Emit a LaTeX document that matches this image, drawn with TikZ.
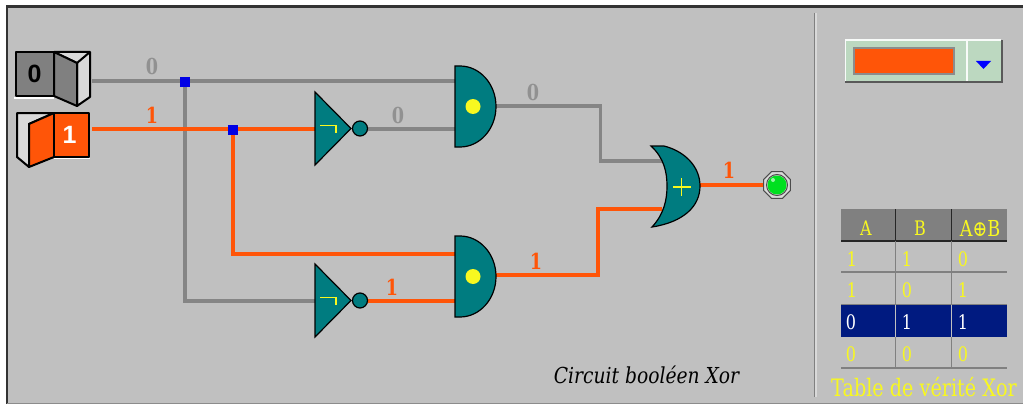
\documentclass[tikz,border=0pt]{standalone}
\usepackage{fontspec}
\usetikzlibrary{shapes.geometric}
\setmainfont{DejaVu Serif}
\newfontfamily\labelfont[FakeStretch=0.8]{DejaVu Serif}
\newfontfamily\capfont[FakeStretch=0.85]{DejaVu Serif}
\newfontfamily\keyfont{Liberation Sans}
\definecolor{panel}{HTML}{C0C0C0}
\definecolor{wireoff}{HTML}{858585}
\definecolor{wireon}{HTML}{FF5508}
\definecolor{gate}{HTML}{007C80}
\definecolor{ledgreen}{HTML}{00E020}
\definecolor{combo}{HTML}{BCD8C0}
\definecolor{rowblue}{HTML}{001A80}
\definecolor{tyellow}{HTML}{F8F820}
\definecolor{header}{HTML}{808080}
\tikzset{
  x=1pt,y=-1pt,
  wire off/.style={draw=wireoff,line width=3.2pt},
  wire on/.style={draw=wireon,line width=3.2pt},
  gate body/.style={draw=black,line width=1.2pt,fill=gate},
  symbol/.style={draw=tyellow,line width=1.7pt},
  junction/.style={fill=blue!90!black,draw=none,minimum size=10pt,inner sep=0pt,shape=rectangle},
  val/.style={font=\labelfont\bfseries\fontsize{22}{22}\selectfont,inner sep=0pt},
  val off/.style={val,text=wireoff!90!white},
  val on/.style={val,text=wireon},
  cell/.style={font=\labelfont\fontsize{20}{20}\selectfont,inner sep=0pt,text=tyellow},
  cell hi/.style={cell,text=white},
  flap/.style={draw=black,line width=2pt,line join=round},
}
\newcommand{\andgateat}[3]{%
  \begin{scope}[shift={(#1,#2)}]
    \filldraw[gate body] (0,-40.5) -- (5,-40.5)
      arc[start angle=90,end angle=-90,x radius=36pt,y radius=40.5pt] -- (0,40.5) -- cycle;
    \fill[tyellow] (18,0) circle[radius=7.5pt];
    \coordinate (#3) at (0,0);
  \end{scope}}
\newcommand{\notgateat}[3]{%
  \begin{scope}[shift={(#1,#2)}]
    \filldraw[gate body] (0,-36.5) -- (36,0) -- (0,36.5) -- cycle;
    \draw[symbol] (5,-3) -- (21,-3) -- (21,4);
    \filldraw[gate body] (45,0) circle[radius=7.5pt];
    \coordinate (#3) at (0,0);
  \end{scope}}
\begin{document}
\begin{tikzpicture}
\useasboundingbox (0,0) rectangle (1023,404);
\fill[white] (0,0) rectangle (1023,404);
\fill[panel] (7,6) rectangle (1023,403);
\draw[black!80,line width=2.4pt] (7,404) -- (7,6.5) -- (1023,6.5);
\draw[black!45,line width=1pt] (7,403.5) -- (1023,403.5);
% divider
\draw[line width=1pt,draw=black!50] (814.5,13) -- (814.5,397);
\draw[line width=1.4pt,draw=white!85!black] (815.8,13) -- (815.8,397);

% ports
\coordinate (swA) at (92,81);
\coordinate (swB) at (92,129);
\coordinate (inv1in) at (315,129);
\coordinate (inv2in) at (315,301);
\coordinate (inv1out) at (368,129);
\coordinate (inv2out) at (368,301);
\coordinate (and1a) at (456,81);
\coordinate (and1b) at (456,129);
\coordinate (and2a) at (456,254);
\coordinate (and2b) at (456,301);
\coordinate (and1o) at (496,106);
\coordinate (and2o) at (496,275);
\coordinate (or1a) at (662,161);
\coordinate (or1b) at (662,209);
\coordinate (oro) at (700,185);
\node[junction] (j1) at (185,82) {};
\node[junction] (j2) at (233,130) {};
\node[shape=regular polygon,regular polygon sides=8,minimum size=29pt,inner sep=0pt,
      fill=white!85!black,draw=black!70,line width=1pt] (led) at (777,185) {};

% wires
\draw[wire off] (swA) -- (and1a);
\draw[wire off] (j1.center) -- (185,301) -- (inv2in);
\draw[wire on] (swB) -- (inv1in);
\draw[wire on] (j2.center) -- (233,254) -- (and2a);
\draw[wire off] (inv1out) -- (and1b);
\draw[wire on] (inv2out) -- (and2b);
\draw[wire off,line join=miter] (and1o) -- (600.5,106) -- (600.5,161) -- (or1a);
\draw[wire on,line join=miter] (and2o) -- (598,275) -- (598,209) -- (or1b);
\draw[wire on] (oro) -- (led);
\node[junction] at (j1.center) {};
\node[junction] at (j2.center) {};

% gates
\andgateat{455}{106.5}{and1}
\andgateat{455}{276.5}{and2}
\notgateat{315}{128.5}{not1}
\notgateat{315}{300.5}{not2}
% or gate
\filldraw[gate body] (651,146) -- (664,146)
  .. controls (684,151) and (700,166) .. (700,186)
  .. controls (700,206) and (684,222) .. (652,227)
  .. controls (664,214) and (667,200) .. (667,186)
  .. controls (667,172) and (664,158) .. (651,146) -- cycle;
\draw[symbol] (673,187) -- (691,187) (681.5,178) -- (681.5,196);

% led
\draw[draw=black!70,line width=1pt] (led.center) circle[radius=10.5pt];
\fill[ledgreen] (led.center) circle[radius=9.5pt];
\fill[white!60!ledgreen] (773,180) circle[radius=2pt];

% switch A (off)
\draw[white,line width=1.5pt] (14,98) -- (54,98);
\filldraw[flap,fill=white!85!black] (54,52) -- (90,52) -- (90,97) -- (77,106) -- (77,63) -- cycle;
\draw[flap] (77,63) -- (90,52);
\filldraw[flap,fill=header] (54,52) -- (77,63) -- (77,106) -- (54,96) -- cycle;
\filldraw[flap,fill=header] (16,52) rectangle (54,96);
\node[font=\keyfont\bfseries\fontsize{25}{25}\selectfont,inner sep=0pt] (labA) at (34.5,73.5) {0};

% switch B (on)
\draw[white,line width=1.5pt] (54,158.5) -- (90,158.5);
\filldraw[flap,fill=white!85!black] (54,113) -- (17,113) -- (17,157) -- (29,167) -- (29,124) -- cycle;
\filldraw[flap,fill=wireon] (54,113) -- (29,124) -- (29,167) -- (54,157) -- cycle;
\filldraw[flap,fill=wireon] (54,113) rectangle (89,157);
\node[font=\keyfont\bfseries\fontsize{25}{25}\selectfont,text=white,inner sep=0pt] (labB) at (69.5,135) {1};

% wire values
\node[val off] (v1) at (152,66) {0};
\node[val on]  (v2) at (152,115) {1};
\node[val off] (v3) at (398,115) {0};
\node[val on]  (v4) at (392,287) {1};
\node[val off] (v5) at (533,92) {0};
\node[val on]  (v6) at (536,261) {1};
\node[val on]  (v7) at (729,170) {1};

% caption
\node[font=\capfont\itshape\fontsize{22}{22}\selectfont,inner sep=0pt,text=black] (cap) at (646.5,375) {Circuit booléen Xor};

% combo
\fill[combo] (845,40) rectangle (1001,81);
\draw[white!90!combo,line width=1.6pt] (845.5,81) -- (845.5,40) -- (1001,40);
\draw[black!65,line width=2pt] (845,82) -- (1002,82) -- (1002,40);
\draw[white!90!combo,line width=1.6pt] (967,40) -- (967,81);
\filldraw[fill=wireon,draw=black!45,line width=1.6pt] (854,48) rectangle (954,74);
\fill[blue] (976,61) -- (991,61) -- (983.5,69) -- cycle;

% table
\fill[header] (841,209) rectangle (1007,241);
\fill[rowblue] (841,305) rectangle (1007,337);
\draw[black!85,line width=1.6pt] (841,241) -- (1007,241);
\draw[black!85,line width=1.6pt] (895.5,209) -- (895.5,241) (951.5,209) -- (951.5,241);
\draw[black!50,line width=1.6pt] (895.5,241) -- (895.5,305) (951.5,241) -- (951.5,305)
  (895.5,337) -- (895.5,368) (951.5,337) -- (951.5,368);
\draw[black!50,line width=1.6pt] (841,272) -- (1007,272) (841,368) -- (1007,368);
\draw[black!50,line width=1.4pt] (841,304.5) -- (1007,304.5);
\draw[panel,line width=1.2pt] (895.5,305) -- (895.5,337) (951.5,305) -- (951.5,337);
\node[cell] (hA) at (866,228) {A};
\node[cell] (hB) at (920,228) {B};
\node[cell,font=\labelfont\fontsize{22}{22}\selectfont] (hX) at (980,228) {A⊕B};
\node[cell] (a1) at (852,259) {1};
\node[cell] (b1) at (907,259) {1};
\node[cell] (c1) at (963,259) {0};
\node[cell] (a2) at (852,290) {1};
\node[cell] (b2) at (907,290) {0};
\node[cell] (c2) at (963,290) {1};
\node[cell hi] (a3) at (851,322) {0};
\node[cell hi] (b3) at (907,322) {1};
\node[cell hi] (c3) at (963,322) {1};
\node[cell] (a4) at (851,354) {0};
\node[cell] (b4) at (907,354) {0};
\node[cell] (c4) at (963,354) {0};
\node[font=\labelfont\fontsize{24}{24}\selectfont,inner sep=0pt,text=tyellow] (tcap) at (924,387) {Table de vérité Xor};
\end{tikzpicture}
\end{document}
